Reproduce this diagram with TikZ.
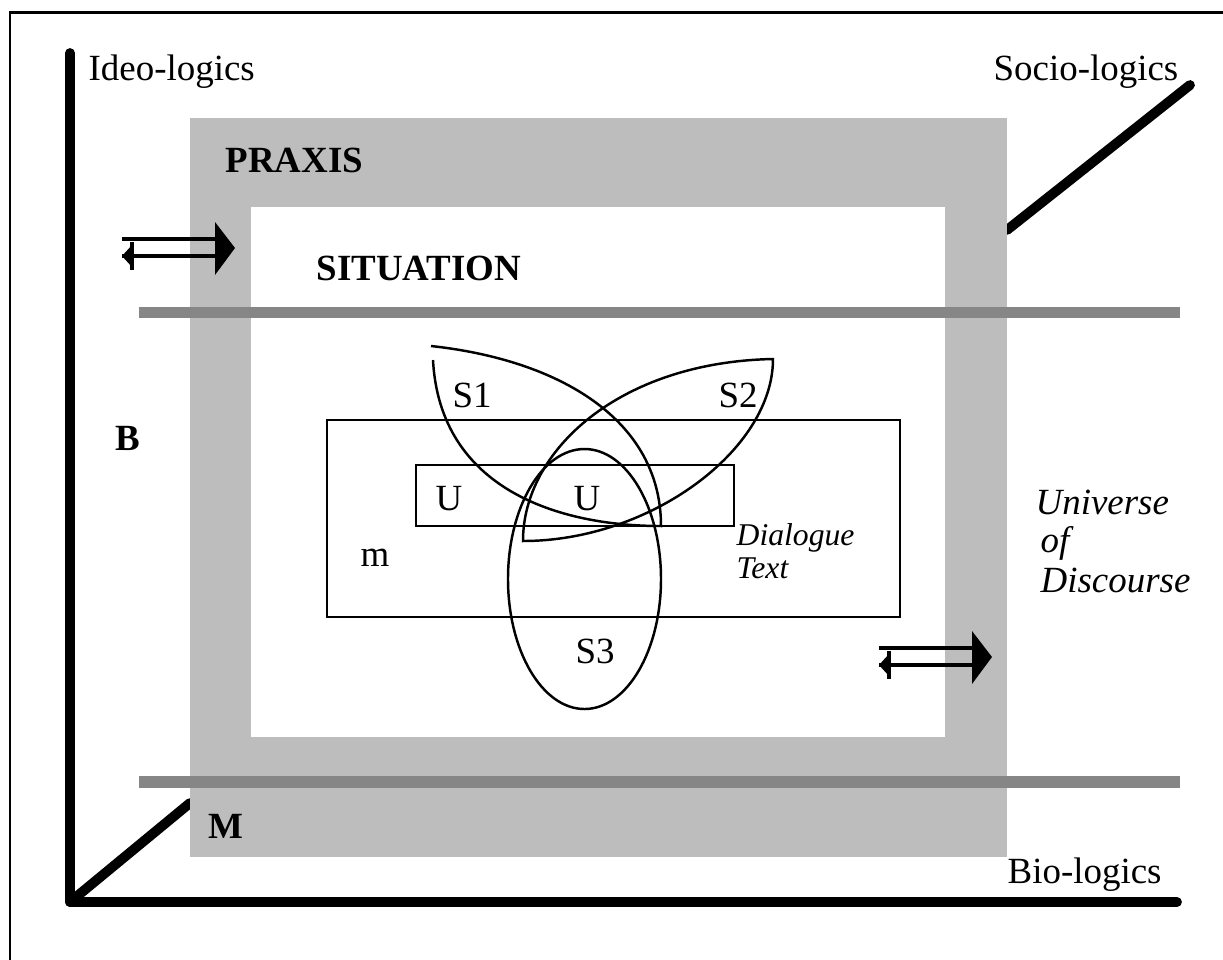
\documentclass[tikz,border=0pt]{standalone}
\usepackage{fontspec}
\setmainfont{Liberation Serif}
\tikzset{
  praxis/.style={fill=gray!52},
  band/.style={fill=gray!95},
  thinline/.style={draw=black,line width=0.7pt},
  dblarrow/.pic={
    \draw[line width=1.1pt] (0,0) -- (93,0);
    \draw[line width=1.1pt] (0,17) -- (93,17);
    \fill (93,-17) -- (113,9) -- (93,36) -- cycle;
    \fill (0,17) -- (10,6) -- (10,28) -- cycle;
    \draw[line width=0.9pt] (10,3) -- (10,31);
  }
}
\begin{document}
\begin{tikzpicture}[x=0.01cm,y=-0.01cm,font=\fontsize{10.5}{12.6}\selectfont]
        \useasboundingbox (0,0) rectangle (1223,959);
        \draw[line width=0.85pt] (10,12) rectangle (1260,1000);
        % axes
        \coordinate (O) at (70,902);
        \coordinate (ideo) at (70,53);
        \coordinate (bio) at (1177,902);
        \coordinate (sociolow) at (190,803);
        \coordinate (sociohigh) at (1007,230);
        \coordinate (socio) at (1190,85);
        \begin{scope}[every edge/.style={draw=black,line width=2.8pt,line cap=round,line join=round}]
          \draw[line width=2.8pt,line cap=round,line join=round] (ideo) -- (O) -- (bio);
          \path (O) edge (sociolow);
          \path (sociohigh) edge (socio);
        \end{scope}
        % praxis and situation
        \fill[praxis] (190,118) rectangle (1007,857);
        \fill[white] (251,207) rectangle (945,737);
        \fill[band] (139,307) rectangle (1180,318);
        \fill[band] (139,776) rectangle (1180,788);
        \pic at (122,239) {dblarrow};
        \pic at (879,648) {dblarrow};
        % dialogue boxes
        \draw[thinline] (327,420) rectangle (900,617);
        \draw[thinline] (416,465) rectangle (734,526);
        \draw[thinline] (433,360) .. controls (440,490) and (560,526) .. (661,526)
          .. controls (661,420) and (560,360) .. (431,346);
        \draw[thinline] (523,541) .. controls (523,450) and (620,362) .. (773,359)
          .. controls (773,450) and (650,541) .. cycle;
        \draw[thinline] (584.5,579) ellipse [x radius=76.5, y radius=130];
        \begin{scope}[every node/.style={anchor=base west,inner sep=0pt}]
          \node (ideolabel) at (88,80) {Ideo-logics};
          \node (sociolabel) at (993,80) {Socio-logics};
          \node (biolabel) at (1007,883) {Bio-logics};
          \node (praxislabel) at (225,172) {\textbf{PRAXIS}};
          \node (situation) at (316,280) {\textbf{SITUATION}};
          \node (B) at (115,450) {\textbf{B}};
          \node (M) at (208,838) {\textbf{M}};
          \node (S1) at (452,407) {S1};
          \node (S2) at (718,407) {S2};
          \node (S3) at (575,663) {S3};
          \node (U1) at (435,510) {U};
          \node (U2) at (573,510) {U};
          \node (m) at (360,566) {m};
          \node (dialogue) at (736,545) {\fontsize{9}{10}\selectfont\itshape Dialogue};
          \node (text) at (736,578) {\fontsize{9}{10}\selectfont\itshape Text};
          \node (universe) at (1035,514) {\itshape Universe};
          \node (of) at (1040,552) {\itshape of};
          \node (discourse) at (1040,592) {\itshape Discourse};
        \end{scope}
\end{tikzpicture}
\end{document}
